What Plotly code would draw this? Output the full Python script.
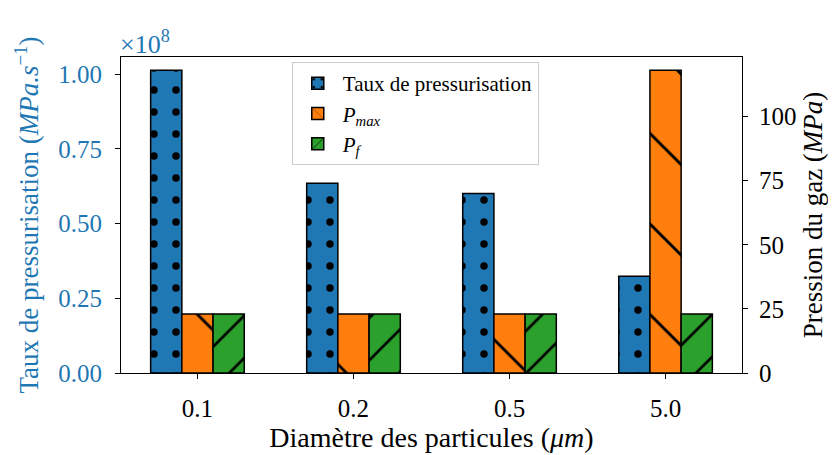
import plotly.graph_objects as go

categories = ["0.1", "0.2", "0.5", "5.0"]
taux = [1.013, 0.635, 0.60, 0.324]          # x 1e8 MPa.s^-1
p_max = [23, 23, 23, 118]                    # MPa
p_f = [23, 23, 23, 23]                       # MPa

BLUE = "#1f77b4"
ORANGE = "#ff7f0e"
GREEN = "#2ca02c"
FONT = "Liberation Serif"

fig = go.Figure()
fig.add_trace(go.Bar(
    x=categories, y=taux, name="Taux de pressurisation",
    width=0.2, offset=-0.3, yaxis="y",
    marker=dict(color=BLUE, line=dict(color="black", width=1.5),
                pattern=dict(shape=".", size=22, solidity=0.09, fgcolor="black",
                             bgcolor=BLUE, fgopacity=1)),
))
fig.add_trace(go.Bar(
    x=categories, y=p_max, name="<i>P</i><sub><i>max</i></sub>",
    width=0.2, offset=-0.1, yaxis="y2",
    marker=dict(color=ORANGE, line=dict(color="black", width=1.5),
                pattern=dict(shape="\\", size=64, solidity=0.045, fgcolor="black",
                             bgcolor=ORANGE, fgopacity=1)),
))
fig.add_trace(go.Bar(
    x=categories, y=p_f, name="<i>P</i><sub><i>f</i></sub>",
    width=0.2, offset=0.1, yaxis="y2",
    marker=dict(color=GREEN, line=dict(color="black", width=1.5),
                pattern=dict(shape="/", size=30, solidity=0.09, fgcolor="black",
                             bgcolor=GREEN, fgopacity=1)),
))

fig.update_layout(
    width=828, height=447,
    margin=dict(l=113, r=94, t=49, b=82, autoexpand=False),
    paper_bgcolor="white", plot_bgcolor="white",
    font=dict(family=FONT, size=26, color="black"),
    showlegend=True,
    legend=dict(x=0.275, y=0.984, xanchor="left", yanchor="top",
                bgcolor="white", bordercolor="#cccccc", borderwidth=1,
                font=dict(size=21), tracegroupgap=0, itemwidth=40),
    xaxis=dict(type="category", range=[-0.49, 3.49], showline=True, linecolor="black",
               linewidth=1.2, mirror=True, ticks="outside", ticklen=5, tickcolor="black",
               tickfont=dict(size=25), automargin=False, ticklabelstandoff=8,
               title=dict(text="Diamètre des particules (<i>μm</i>)", standoff=4,
                          font=dict(size=28))),
    yaxis=dict(range=[0, 1.057], tickvals=[0, 0.25, 0.5, 0.75, 1.0],
               ticktext=["0.00", "0.25", "0.50", "0.75", "1.00"],
               showline=True, linecolor="black", linewidth=1.2, ticks="outside",
               ticklen=5, tickcolor="black", showgrid=False, zeroline=False,
               tickfont=dict(color=BLUE, size=25), automargin=False, ticklabelstandoff=8,
               title=dict(text="Taux de pressurisation (<i>MPa.s</i><sup>−1</sup>)",
                          font=dict(color=BLUE, size=27), standoff=11)),
    yaxis2=dict(range=[0, 123.2], overlaying="y", side="right",
                tickvals=[0, 25, 50, 75, 100],
                showline=True, linecolor="black", linewidth=1.2, ticks="outside",
                ticklen=5, tickcolor="black", showgrid=False, zeroline=False,
                tickfont=dict(size=25), automargin=False, ticklabelstandoff=6,
                title=dict(text="Pression du gaz (<i>MPa</i>)", standoff=7,
                           font=dict(size=27))),
    annotations=[dict(text="×10<sup>8</sup>", xref="paper", yref="paper", x=0, y=1.0,
                      xanchor="left", yanchor="bottom", showarrow=False, yshift=-4,
                      xshift=-3, font=dict(color=BLUE, size=26))],
)

fig.write_html("out.html")
